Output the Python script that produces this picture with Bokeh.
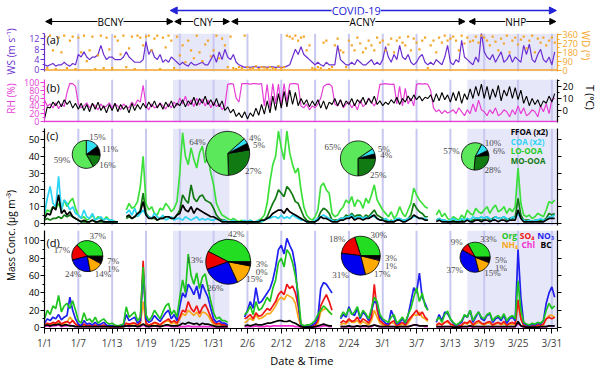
import numpy as np
from bokeh.plotting import figure
from bokeh.models import (Range1d, LinearAxis, FixedTicker, Label, LabelSet, Arrow, NormalHead,
                          BoxAnnotation, Span, ColumnDataSource)
from bokeh.layouts import column, row
from bokeh.embed import file_html
from bokeh.resources import INLINE

FONT = "Open Sans"

# ---------------- data ----------------
tick_days = [0, 6, 12, 18, 24, 30, 36, 42, 48, 54, 60, 66, 72, 78, 84, 90]
tick_labels = ["1/1", "1/7", "1/13", "1/19", "1/25", "1/31", "2/6", "2/12", "2/18",
               "2/24", "3/1", "3/7", "3/13", "3/19", "3/25", "3/31"]

period_names = ["BCNY", "CNY", "ACNY", "NHP"]
period_start = [0.2, 23.1, 33.2, 75.3]
period_end = [22.8, 32.8, 74.6, 90.7]
covid_name = "COVID-19"
covid_start, covid_end = 22.3, 90.8
shade_start = [22.8, 75.0]
shade_end = [32.8, 91.0]

# 12-hourly series, starting 1/1 00:00
ws = [2.0,1.5, 2.0,2.5, 1.5,2.0, 2.0,3.0, 2.0,1.5, 2.5,2.0,
      6,5, 7,5, 4,5, 5,6, 9.5,6, 4,5,
      5,4, 4,4, 5,7, 5,4, 3,3, 3,4,
      11,6, 8,5, 4,6, 3,4, 3,5, 4,3,
      2,3, 2,1.5, 3,2, 2,2.5, 3,2, 2,4,
      6,3, 7,4, 8,5, 4,6, 3,2, 1.5,1,
      1.2,1.0, 1.2,1.3, 1.0,1.2, 1.2,1.0, 1.3,1.2, 1.0,1.2,
      1,1, 1.5,2, 5,8, 6,9, 6,5, 4,3,
      2,3, 2,1.5, 3,2, 2,2, 9.5,4, 3,2,
      2,3, 2,4, 3,2, 2,3, 4,2, 3,2,
      4,9, 5,3, 6,4, 9.5,5, 4,6, 3,2,
      3,5, 6,3, 2,3, 2,4, 3,2, 5,9.5,
      3,2, 4,3, 11.5,5, 4,3, 2,5, 3,14.5,
      7,5, 4,6, 3,5, 7,3, 4,6, 3,5,
      4,3, 9.5,6, 10,4, 3,6, 8,4, 3,5,
      2,7]
wd = [340,20, 350,200, 10,330, 180,350, 20,300, 340,10,
      330,180, 350,90, 200,340, 10,150, 350,20, 330,210,
      20,340, 300,160, 350,30, 220,340, 10,350, 330,250,
      340,350, 200,320, 350,10, 330,230, 350,300, 20,340,
      150,250, 80,300, 200,120, 350,180, 90,260, 300,140,
      200,350, 120,320, 250,30, 340,20, 10,30, 20,350,
      30,15, 20,40, 10,30, 25,15, 30,20, 10,40,
      20,30, 350,340, 320,350, 300,330, 340,200, 250,20,
      10,30, 20,280, 300,10, 30,250, 320,200, 180,30,
      300,250, 200,330, 270,180, 220,300, 250,200, 330,280,
      300,200, 260,320, 180,300, 330,280, 250,340, 200,320,
      280,210, 300,330, 20,250, 300,180, 330,280, 350,300,
      320,340, 300,200, 350,270, 330,290, 300,340, 280,350,
      330,300, 250,340, 290,200, 320,270, 350,180, 300,330,
      260,310, 340,220, 300,350, 180,320, 280,330, 250,300,
      330,280]
rh = [55,40, 45,35, 48,33, 45,38, 75,98, 97,90,
      45,35, 40,48, 35,45, 40,30, 45,35, 40,48,
      35,45, 40,30, 45,38, 35,50, 40,55, 50,93,
      40,30, 45,35, 38,48, 40,32, 45,35, 50,40,
      60,45, 65,40, 55,38, 60,42, 58,40, 55,35,
      50,38, 45,30, 40,95, 97,96, 60,50, 97,97,
      97,96, 97,97, 96,97, 40,95, 35,97, 45,96,
      40,97, 50,96, 97,97, 95,40, 35,45, 30,40,
      35,45, 60,90, 95,96, 90,45, 40,55, 35,45,
      50,35, 45,30, 55,38, 45,60, 50,40, 55,95,
      96,97, 96,95, 96,45, 90,40, 85,45, 60,40,
      95,97, 96,97, 95,80, 35,25, 30,20, 28,22,
      25,30, 20,35, 25,15, 30,20, 45,25, 55,30,
      25,15, 30,20, 35,15, 20,30, 25,12, 30,18,
      40,20, 35,15, 20,30, 25,12, 40,25, 45,20,
      55,60]
temp = [-7,3, 2,7, 4,8, 3,9, 5,8, 2,6,
        1,6, 0,5, -1,6, 1,7, 0,4, -2,5,
        0,6, -1,5, 1,4, -2,6, 0,5, 1,6,
        2,7, 3,8, 2,6, 1,7, 3,8, 2,6,
        4,9, 3,8, 5,11, 4,10, 6,12, 5,9,
        4,10, 3,8, 0,3, -2,1, -5,-2, -6,-1,
        -7,-2, -5,2, -4,5, -3,8, -2,12, 0,14,
        2,16, 3,17, 5,15, 4,10, 5,9, 3,8,
        4,9, 2,8, 1,7, 5,10, 4,9, 3,8,
        5,10, 4,9, 6,11, 5,10, 6,12, 5,8,
        4,7, 5,9, 6,11, 5,10, 7,12, 8,13,
        9,12, 8,11, 10,13, 7,14, 8,15, 9,13,
        7,15, 8,16, 6,14, 9,18, 10,20, 12,22,
        10,20, 9,18, 11,21, 8,17, 12,20, 10,19,
        9,17, 6,12, 4,10, 5,9, 3,8, 6,12,
        7,14]

lo_ooa = [5,8, 7,10, 9,12, 8,14, 10,13, 15,9,
          5,3, 4,2, 3,5, 2,4, 3,2, 4,2,
          2,1, 1,None, None,8, 12,9, 10,13, 22,40,
          12,8, 10,6, 5,9, 8,12, 10,7, 9,13,
          30,54, 40,35, 45,38, 33,42, 46,36, 40,30,
          23,12, 8,5, 4,3, 2,3, 2,1, 2,1,
          1,2, 1,1, 2,3, 5,12, 25,35, 40,55,
          45,38, 55,42, 35,30, 33,20, 10,5, 3,2,
          4,8, 22,24, 20,18, 6,4, 5,8, 10,14,
          12,16, 10,14, 13,9, 15,12, 17,23, 14,11,
          8,6, 4,7, 3,5, 10,6, 4,8, 12,21,
          17,14, 12,10, 9,None, None,5, 8,4, 6,3,
          2,4, 3,2, 5,3, 8,6, 5,9, 7,6,
          8,10, 6,9, 11,7, 8,10, 6,9, 7,10,
          33,12, 5,4, 5,3, 4,6, 5,4, 8,13,
          12,14]
mo_ooa = [2,3, 2,3, 3,4, 3,5, 4,5, 4,3,
          2,1, 1,1, 1,2, 1,1, 1,1, 1,1,
          1,1, 1,None, None,3, 4,3, 4,5, 8,18,
          6,4, 3,3, 2,3, 3,4, 4,3, 3,5,
          8,17, 14,12, 23,15, 13,16, 17,14, 13,12,
          9,5, 3,2, 2,1, 1,1, 1,1, 1,1,
          1,1, 1,1, 1,1, 2,4, 8,12, 15,20,
          18,16, 22,20, 17,13, 12,8, 4,2, 1,1,
          1,3, 7,9, 8,6, 2,2, 2,3, 3,5,
          4,6, 4,5, 5,3, 5,4, 6,8, 5,4,
          3,2, 1,2, 1,2, 3,2, 2,3, 5,12,
          9,7, 6,4, 4,None, None,2, 3,2, 2,1,
          1,2, 1,1, 2,1, 3,2, 2,3, 3,2,
          3,4, 2,3, 4,3, 3,4, 2,3, 3,4,
          15,5, 2,2, 2,1, 2,2, 2,2, 3,6,
          5,6]
ffoa_x2 = [3,6, 5,10, 8,17, 6,8, 5,7, 4,3,
           2,1, 2,1, 1,2, 1,1, 2,1, 1,1,
           1,1, 1,None, None,4, 5,3, 4,6, 7,13,
           5,3, 3,4, 2,3, 3,4, 4,3, 3,5,
           6,11, 8,7, 10,6, 9,8, 7,6, 5,4,
           4,3, 2,1, 1,1, 1,1, 1,1, 1,1,
           1,1, 1,1, 1,2, 2,3, 4,6, 7,8,
           8,6, 9,7, 6,5, 4,3, 2,1, 1,1,
           1,2, 4,3, 3,2, 1,1, 1,2, 2,3,
           3,4, 2,3, 3,2, 3,3, 4,5, 3,2,
           2,1, 1,1, 1,2, 2,1, 1,2, 3,5,
           4,3, 3,2, 2,None, None,1, 2,1, 1,1,
           1,1, 1,1, 1,1, 2,1, 1,2, 2,1,
           2,2, 1,2, 2,1, 2,2, 1,2, 2,2,
           8,3, 1,1, 1,1, 1,1, 1,1, 2,3,
           3,3]
coa_x2 = [6,15, 22,12, 10,28, 8,14, 12,8, 10,6,
          5,3, 8,4, 3,6, 2,3, 4,2, 3,2,
          2,1, 1,None, None,6, 8,5, 9,4, 6,8,
          5,4, 3,6, 4,3, 5,2, 3,4, 2,3,
          3,2, 4,3, 2,3, 4,2, 3,2, 3,2,
          2,3, 2,1, 2,1, 1,2, 1,1, 1,2,
          1,2, 1,1, 2,1, 2,3, 3,4, 4,3,
          5,3, 4,3, 5,4, 3,2, 2,1, 1,1,
          2,3, 4,5, 4,3, 2,1, 2,3, 3,4,
          4,5, 3,4, 4,3, 4,3, 5,4, 3,2,
          2,3, 2,1, 2,3, 3,2, 2,3, 3,4,
          4,3, 3,3, 2,None, None,2, 3,2, 2,1,
          2,3, 2,1, 3,2, 3,2, 4,3, 3,4,
          3,4, 3,2, 4,3, 3,4, 3,2, 4,3,
          6,3, 2,1, 2,1, 2,2, 3,2, 2,4,
          4,5]

org = [10,20, 15,25, 22,37, 18,25, 28,22, 31,20,
       8,5, 17,8, 10,6, 12,5, 8,10, 6,4,
       5,3, 2,3, 4,24, 12,15, 18,8, 12,70,
       15,8, 12,20, 15,10, 18,25, 28,15, 20,12,
       35,55, 40,85, 60,50, 63,45, 58,62, 46,30,
       17,10, 12,8, 8,6, None,None, None,None, None,15,
       18,25, 15,30, 20,22, 28,35, 30,45, 55,75,
       80,70, 90,85, 75,60, 40,4, 2,3, 3,5,
       8,15, 20,25, 22,18, 15,None, None,12, 18,14,
       22,15, 18,24, 12,20, 16,10, 22,35, 30,15,
       10,8, 6,12, 15,5, 8,12, 6,15, 22,35,
       46,30, 40,25, 20,None, None,8, 12,6, 15,19,
       10,6, 3,5, 8,15, 12,20, 8,14, 18,12,
       10,15, 17,8, 12,14, 10,16, 8,12, 14,10,
       54,20, 6,4, 3,5, 4,6, 5,8, 20,28,
       22,25]
so4 = [3,5, 4,6, 5,8, 4,6, 7,5, 8,4,
       2,2, 4,2, 3,2, 3,2, 2,3, 2,1,
       1,1, 1,1, 2,5, 4,5, 5,3, 6,77,
       5,3, 4,6, 5,3, 6,8, 10,6, 8,5,
       12,20, 18,30, 22,18, 25,16, 23,27, 20,12,
       6,4, 5,3, 3,2, None,None, None,None, None,10,
       12,15, 10,17, 13,14, 18,22, 20,25, 30,38,
       42,38, 50,45, 48,40, 25,2, 1,1, 1,2,
       3,8, 25,32, 38,30, 20,None, None,5, 8,6,
       10,7, 8,12, 6,10, 8,5, 12,50, 20,8,
       5,3, 3,6, 8,2, 4,6, 3,8, 12,16,
       20,14, 18,12, 9,None, None,3, 5,3, 6,8,
       4,3, 1,2, 3,6, 5,8, 3,6, 8,5,
       4,6, 7,3, 5,6, 4,7, 3,5, 6,4,
       32,10, 3,2, 1,2, 2,3, 3,4, 10,12,
       10,12]
no3 = [5,10, 8,12, 10,15, 9,12, 14,35, 20,10,
       4,2, 8,4, 5,3, 6,3, 4,6, 3,2,
       2,1, 1,2, 3,15, 8,10, 12,5, 8,64,
       10,6, 8,14, 10,7, 12,17, 20,10, 15,8,
       25,40, 35,50, 45,38, 48,33, 50,42, 35,22,
       10,6, 8,5, 5,3, None,None, None,None, None,12,
       20,30, 22,46, 28,30, 35,40, 45,55, 70,90,
       95,85, 103,95, 88,70, 30,3, 2,1, 2,3,
       5,12, 45,52, 50,45, 40,None, None,10, 15,12,
       24,16, 14,22, 10,18, 14,8, 20,30, 28,12,
       8,5, 4,20, 12,4, 6,10, 5,14, 30,46,
       40,63, 35,28, 20,None, None,6, 15,8, 18,16,
       10,5, 2,4, 6,14, 12,20, 6,12, 18,10,
       8,14, 16,6, 10,12, 8,14, 5,10, 12,8,
       90,35, 5,3, 2,4, 3,5, 4,8, 28,40,
       47,35]
nh4 = [2,4, 3,5, 4,7, 3,5, 6,12, 8,4,
       2,1, 3,2, 2,1, 2,1, 2,2, 1,1,
       1,1, 1,1, 1,5, 3,4, 5,2, 4,30,
       4,3, 3,5, 4,3, 5,7, 8,4, 6,3,
       10,16, 14,20, 17,14, 18,12, 18,17, 14,8,
       4,3, 3,2, 2,1, None,None, None,None, None,5,
       8,11, 8,15, 10,11, 13,16, 16,20, 25,32,
       35,32, 38,36, 34,28, 12,1, 1,1, 1,1,
       2,5, 18,21, 22,18, 15,None, None,3, 5,4,
       8,6, 6,8, 4,7, 5,3, 8,20, 12,5,
       3,2, 2,6, 5,1, 2,4, 2,5, 10,15,
       14,18, 12,10, 7,None, None,2, 5,3, 6,6,
       4,2, 1,2, 2,5, 4,7, 2,4, 6,4,
       3,5, 5,2, 4,5, 3,5, 2,4, 4,3,
       28,11, 2,1, 1,1, 1,2, 2,3, 10,14,
       14,12]
chl = [1,2, 1,2, 2,3, 1,2, 2,3, 2,1,
       1,1, 1,1, 1,1, 1,1, 1,1, 1,0.5,
       0.5,0.5, 0.5,0.5, 1,2, 1,2, 2,1, 1,3,
       1,1, 1,2, 1,1, 2,2, 2,1, 1,1,
       1,1, 1,2, 1,1, 1,1, 1,1, 1,1,
       1,0.5, 0.5,0.5, 0.5,0.5, None,None, None,None, None,1,
       1,1, 1,2, 1,1, 1,2, 1,2, 2,2,
       2,2, 2,2, 2,1, 1,0.5, 0.5,0.5, 0.5,0.5,
       0.5,1, 1,2, 2,1, 1,None, None,1, 1,1,
       1,1, 1,2, 1,1, 1,1, 1,3, 2,1,
       1,1, 1,1, 1,0.5, 1,1, 1,1, 2,3,
       3,2, 2,1, 1,None, None,0.5, 1,0.5, 1,1,
       1,0.5, 0.5,0.5, 0.5,1, 1,1, 0.5,1, 1,0.5,
       0.5,1, 1,0.5, 1,1, 0.5,1, 0.5,1, 1,0.5,
       5,2, 0.5,0.5, 0.5,0.5, 0.5,0.5, 0.5,1, 1,2,
       2,2]
bc = [2,3, 2,3, 3,4, 2,3, 3,2, 2,1,
      1,1, 1,1, 1,1, 1,1, 1,1, 1,1,
      1,1, 1,1, 1,2, 2,2, 2,1, 2,4,
      2,1, 2,2, 2,1, 2,3, 3,2, 2,2,
      3,5, 4,6, 5,4, 5,3, 5,4, 4,3,
      2,1, 1,1, 1,1, None,None, None,None, None,2,
      3,2, 3,4, 3,3, 4,5, 5,6, 7,8,
      8,7, 7,8, 6,5, 3,1, 0.5,0.5, 0.5,0.5,
      1,2, 3,4, 3,2, 2,None, None,1, 1,1,
      2,1, 1,2, 1,2, 2,1, 2,3, 2,1,
      1,1, 1,1, 1,0.5, 1,1, 1,1, 2,3,
      3,2, 2,2, 2,None, None,1, 1,1, 1,1,
      1,0.5, 0.5,0.5, 1,1, 1,2, 1,1, 1,1,
      1,1, 1,1, 1,1, 1,1, 1,1, 1,1,
      7,2, 1,0.5, 0.5,0.5, 0.5,0.5, 1,1, 1,2,
      2,2]

# pie percentages per period (BCNY, CNY, ACNY, NHP)
pie_c_lo = [59, 64, 65, 57]
pie_c_coa = [15, 4, 5, 10]
pie_c_ffoa = [11, 5, 4, 6]
pie_c_mo = [16, 27, 25, 28]
pie_d_org = [37, 42, 30, 33]
pie_d_so4 = [17, 13, 18, 9]
pie_d_no3 = [24, 26, 31, 37]
pie_d_nh4 = [14, 15, 17, 15]
pie_d_chl = [1, 0, 1, 1]
pie_d_bc = [7, 3, 3, 5]

# ---------------- styles / layout ----------------
PURPLE = "#6b2fd0"; ORANGE = "#f4a62a"; MAGENTA = "#e63ed6"
LO_C = "#3be03b"; MO_C = "#127a12"; COA_C = "#2cd5f5"
ORG_C = "#1fc41f"; SO4_C = "#f01414"; NO3_C = "#1f1ff0"; NH4_C = "#f7a81c"; CHL_C = "#f030d0"
BLUE = "#2323d8"; SHADE = "#e7e7fa"; GRID = "#c8c8f0"


def arr(v):
    return np.array([np.nan if x is None else x for x in v], dtype=float)


def tt(a):
    return np.arange(len(a)) * 0.5


PW = 560
xr = Range1d(0, 91)


def make_panel(h, yr, top, bottom, xaxis=False):
    p = figure(width=PW, height=h, x_range=xr, y_range=yr, output_backend="svg",
               toolbar_location=None, x_axis_location="below" if xaxis else None,
               y_axis_location="left", min_border_left=24, min_border_right=21,
               min_border_top=top, min_border_bottom=bottom)
    p.outline_line_color = None
    p.grid.visible = False
    for s, e in zip(shade_start, shade_end):
        p.add_layout(BoxAnnotation(left=s, right=e, fill_color=SHADE, fill_alpha=1.0,
                                   line_color=None, level="image"))
    for d in tick_days[1:]:
        p.add_layout(Span(location=d, dimension="height", line_color=GRID, line_width=2,
                          level="underlay"))
    return p


def style_axis(ax, color, ticks, minor, labels=True, size="9.5px"):
    ax.ticker = FixedTicker(ticks=ticks, minor_ticks=minor)
    ax.axis_line_color = color
    ax.axis_line_width = 1.2
    ax.major_tick_line_color = color
    ax.minor_tick_line_color = color
    ax.major_label_text_color = color
    ax.major_label_text_font = FONT
    ax.major_label_text_font_size = size
    if not labels:
        ax.major_label_overrides = {t: "" for t in ticks}
    ax.major_tick_out = 4
    ax.major_tick_in = 0
    ax.minor_tick_out = 2
    ax.minor_tick_in = 0
    ax.major_label_standoff = 1


def panel_label(p, txt, x, y):
    p.add_layout(Label(x=x, y=y, text=txt, text_font=FONT, text_font_size="11px",
                       text_align="left", text_baseline="middle", text_color="black"))


def draw_pies(p, cx, cy, radii, starts, parts, colors, stack=None):
    for i in range(len(cx)):
        vals = np.array([part[i] for part in parts], dtype=float)
        frac = vals / vals.sum()
        edges = np.radians(starts[i]) + np.concatenate([[0.0], np.cumsum(frac)]) * 2 * np.pi
        keep = vals > 0
        p.wedge(x=cx[i], y=cy[i], radius=radii[i], radius_units="screen",
                start_angle=list(edges[:-1][keep]), end_angle=list(edges[1:][keep]),
                fill_color=[c for c, k in zip(colors, keep) if k],
                line_color="black", line_width=0.8)
        mids = (edges[:-1] + edges[1:]) / 2
        xo = list((radii[i] + 11) * np.cos(mids))
        yo = list((radii[i] + 6) * np.sin(mids))
        if stack is not None:
            a, b = stack
            xo[a] = xo[b]
            yo[a] = yo[b] - 8
        txt = [f"{int(v)}%" for v in vals]
        src = ColumnDataSource(dict(x=[cx[i]] * len(vals), y=[cy[i]] * len(vals),
                                    text=txt, xo=xo, yo=yo))
        p.add_layout(LabelSet(x="x", y="y", text="text", x_offset="xo", y_offset="yo",
                              source=src, text_font=FONT, text_font_size="9px",
                              text_color="#4a4a4a", text_align="center",
                              text_baseline="middle"))


def strip_fig(w, h):
    f = figure(width=w, height=h, x_range=Range1d(0, w), y_range=Range1d(h, 0),
               output_backend="svg", toolbar_location=None, x_axis_location=None,
               y_axis_location=None, min_border_left=0, min_border_right=0,
               min_border_top=0, min_border_bottom=0)
    f.outline_line_color = None
    f.grid.visible = False
    return f


# ---- top strip with period arrows ----
top = figure(width=PW, height=28, x_range=xr, y_range=Range1d(0, 28), output_backend="svg",
             toolbar_location=None, x_axis_location=None, y_axis_location=None,
             min_border_left=24, min_border_right=21, min_border_top=0, min_border_bottom=0)
top.outline_line_color = None
top.grid.visible = False
top.add_layout(Arrow(x_start=covid_start, x_end=covid_end, y_start=18, y_end=18,
                     start=NormalHead(size=7, fill_color=BLUE, line_color=BLUE),
                     end=NormalHead(size=7, fill_color=BLUE, line_color=BLUE),
                     line_color=BLUE, line_width=1.5))
top.add_layout(Label(x=55.3, y=18, text=covid_name, text_font=FONT,
                     text_font_size="11px", text_color=BLUE, text_align="center",
                     text_baseline="middle", background_fill_color="white"))
period_label_x = [11.7, 28.1, 56.4, 83.6]
for name, s, e, lx in zip(period_names, period_start, period_end, period_label_x):
    top.add_layout(Arrow(x_start=s, x_end=e, y_start=7, y_end=7,
                         start=NormalHead(size=6, fill_color="black", line_color="black"),
                         end=NormalHead(size=6, fill_color="black", line_color="black"),
                         line_color="black", line_width=1.2))
    top.add_layout(Label(x=lx, y=7, text=name, text_font=FONT, text_font_size="10px",
                         text_color="black", text_align="center", text_baseline="middle",
                         background_fill_color="white"))

# ---- panel (a) ----
pa = make_panel(48, Range1d(-0.58, 14.1), 5, 5)
pa.extra_y_ranges = {"wd": Range1d(-15.2, 372)}
a_ws, a_wd = arr(ws), arr(wd)
pa.line(tt(a_ws), a_ws, line_color=PURPLE, line_width=1.2)
pa.scatter(tt(a_wd), a_wd, y_range_name="wd", marker="square", size=2.2,
           fill_color=ORANGE, line_color=None)
pa.add_layout(Span(location=0, dimension="width", line_color=ORANGE, line_width=1.5))
style_axis(pa.yaxis[0], PURPLE, [0, 4, 8, 12], [2, 6, 10, 14], size="9px")
ax_wd = LinearAxis(y_range_name="wd")
style_axis(ax_wd, ORANGE, [0, 90, 180, 270, 360], [45, 135, 225, 315], size="9px")
pa.add_layout(ax_wd, "right")
panel_label(pa, "(a)", 0.35, 11.8)

# ---- panel (b) ----
pb = make_panel(51, Range1d(-2.56, 107.7), 3, 5)
pb.extra_y_ranges = {"t": Range1d(-10, 25.8)}
b_rh, b_t = arr(rh), arr(temp)
pb.line(tt(b_rh), b_rh, line_color=MAGENTA, line_width=1.2)
pb.line(tt(b_t), b_t, y_range_name="t", line_color="black", line_width=1.1)
pb.add_layout(Span(location=0, dimension="width", line_color=MAGENTA, line_width=1.5))
style_axis(pb.yaxis[0], MAGENTA, [0, 20, 40, 60, 80, 100], [10, 30, 50, 70, 90], size="9px")
ax_t = LinearAxis(y_range_name="t")
style_axis(ax_t, "black", [0, 10, 20], [-5, 5, 15, 25])
pb.add_layout(ax_t, "right")
panel_label(pb, "(b)", 0.35, 86)

# ---- panel (c) ----
pc = make_panel(103, Range1d(-1.2, 56.5), 1, 5)
for series, col in [(lo_ooa, LO_C), (mo_ooa, MO_C), (coa_x2, COA_C), (ffoa_x2, "black")]:
    a = arr(series)
    pc.line(tt(a), a, line_color=col, line_width=1.7)
pc.add_layout(Span(location=0, dimension="width", line_color="black", line_width=1.2))
style_axis(pc.yaxis[0], "black", [0, 10, 20, 30, 40, 50], [5, 15, 25, 35, 45, 55])
ax_cr = LinearAxis()
style_axis(ax_cr, "black", [0, 10, 20, 30, 40, 50], [], labels=False)
pc.add_layout(ax_cr, "right")
panel_label(pc, "(c)", 0.35, 52.4)
draw_pies(pc, [7.4, 32.5, 55.6, 76.4], [41.1, 41.7, 38.7, 39.9], [14, 22, 17.5, 13.7],
          [-60, -88, -90, -95], [pie_c_mo, pie_c_ffoa, pie_c_coa, pie_c_lo],
          [MO_C, "black", "#33e0f2", "#5be85b"])
for txt, col, yv in [("FFOA (x2)", "black", 54.8), ("COA (x2)", COA_C, 48.8),
                     ("LO-OOA", "#22cc22", 43.5), ("MO-OOA", MO_C, 37.5)]:
    pc.add_layout(Label(x=82.7, y=yv, text=txt, text_font=FONT, text_font_size="8px",
                        text_font_style="bold", text_color=col, text_align="left",
                        text_baseline="middle"))

# ---- panel (d) ----
pd = make_panel(122, Range1d(-1.1, 112.1), 0, 19, xaxis=True)
for series, col in [(chl, CHL_C), (nh4, NH4_C), (so4, SO4_C), (no3, NO3_C),
                    (org, ORG_C), (bc, "black")]:
    a = arr(series)
    pd.line(tt(a), a, line_color=col, line_width=1.7)
style_axis(pd.yaxis[0], "black", [0, 20, 40, 60, 80, 100], [10, 30, 50, 70, 90])
ax_dr = LinearAxis()
style_axis(ax_dr, "black", [0, 20, 40, 60, 80, 100], [], labels=False)
pd.add_layout(ax_dr, "right")
xa = pd.xaxis[0]
xa.ticker = FixedTicker(ticks=tick_days, minor_ticks=list(range(0, 92)))
xa.major_label_overrides = {d: lab for d, lab in zip(tick_days, tick_labels)}
xa.major_label_text_font = FONT
xa.major_label_text_font_size = "10px"
xa.major_tick_out = 5
xa.major_tick_in = 0
xa.minor_tick_out = 3
xa.minor_tick_in = 0
xa.axis_line_width = 1.2
xa.major_label_standoff = 2
panel_label(pd, "(d)", 0.35, 97.8)
draw_pies(pd, [7.6, 32.6, 56.1, 76.4], [82.4, 76.0, 83.0, 81.3], [15.5, 22.5, 19.5, 15],
          [0, 0, 0, 0], [pie_d_org, pie_d_so4, pie_d_no3, pie_d_nh4, pie_d_chl, pie_d_bc],
          ["#22dd22", "#ee0000", "#0000ee", "#ffaa00", "#ee22cc", "black"], stack=(4, 5))
for txt, col, xv, yv in [("Org", ORG_C, 81.1, 106.0), ("SO₄", SO4_C, 84.3, 106.0),
                         ("NO₃", NO3_C, 87.4, 106.0), ("NH₄", NH4_C, 81.1, 95.5),
                         ("Chl", CHL_C, 84.6, 95.5), ("BC", "black", 88.0, 95.5)]:
    pd.add_layout(Label(x=xv, y=yv, text=txt, text_font=FONT, text_font_size="8.5px",
                        text_font_style="bold", text_color=col, text_align="left",
                        text_baseline="middle"))

# ---- side / bottom label strips ----
left = strip_fig(20, 367)
for txt, col, yv in [("WS (m s⁻¹)", PURPLE, 51), ("RH (%)", MAGENTA, 98),
                     ("Mass Conc. (μg m⁻³)", "black", 235)]:
    left.add_layout(Label(x=10, y=yv, text=txt, angle=np.pi / 2, text_font=FONT,
                          text_font_size="10px", text_color=col, text_align="center",
                          text_baseline="middle"))
right = strip_fig(20, 367)
for txt, col, xv, yv in [("WD (°)", ORANGE, 5, 45), ("T (°C)", "black", 9, 97)]:
    right.add_layout(Label(x=xv, y=yv, text=txt, angle=-np.pi / 2, text_font=FONT,
                           text_font_size="10px", text_color=col, text_align="center",
                           text_baseline="middle"))
bottom = strip_fig(PW, 15)
bottom.add_layout(Label(x=281, y=8, text="Date & Time", text_font=FONT,
                        text_font_size="11px", text_color="black", text_align="center",
                        text_baseline="middle"))

layout = row(left, column(top, pa, pb, pc, pd, bottom), right)
open("out.html", "w").write(file_html(layout, INLINE))
